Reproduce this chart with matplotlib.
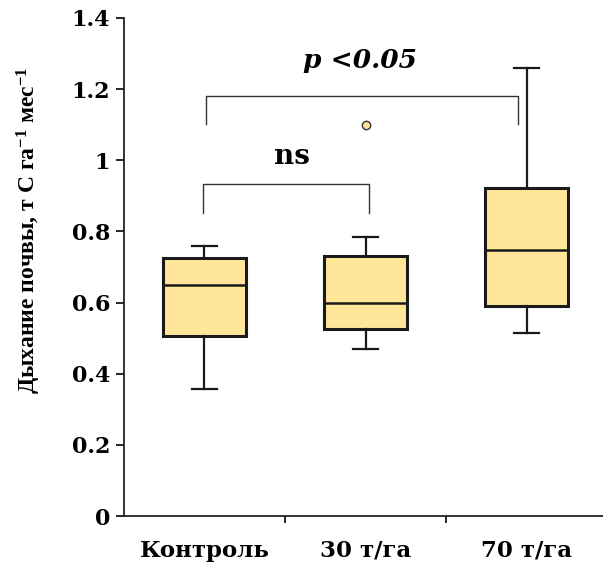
import matplotlib
matplotlib.use("Agg")
import matplotlib.pyplot as plt

# data
categories = ["Контроль", "30 т/га", "70 т/га"]
whisker_low = [0.356, 0.469, 0.514]
q1 = [0.506, 0.527, 0.590]
median = [0.649, 0.598, 0.747]
q3 = [0.726, 0.731, 0.922]
whisker_high = [0.760, 0.783, 1.260]
outliers = [[], [1.10], []]

# significance brackets: (x_left, x_right, y_top, y_leg)
brackets = [
    (0.99, 2.02, 0.932, 0.853),
    (1.01, 2.945, 1.182, 1.101),
]

plt.rcParams["font.family"] = ["Liberation Serif", "DejaVu Serif"]
plt.rcParams["font.weight"] = "bold"
plt.rcParams["mathtext.fontset"] = "custom"
plt.rcParams["mathtext.rm"] = "Liberation Serif:bold"
plt.rcParams["mathtext.bf"] = "Liberation Serif:bold"
plt.rcParams["mathtext.default"] = "rm"

# the picture's horizontal text is wide, DejaVu Serif matches its width
wide = ["DejaVu Serif"]

fig = plt.figure(figsize=(6.03, 5.64), dpi=100)
ax = fig.add_axes([0.2056, 0.0851, 0.7944, 0.8830])

stats = []
for i in range(len(categories)):
    stats.append({
        "whislo": whisker_low[i], "q1": q1[i], "med": median[i],
        "q3": q3[i], "whishi": whisker_high[i], "fliers": outliers[i],
    })

ax.bxp(stats, positions=[1, 2, 3], widths=0.52, patch_artist=True,
       boxprops=dict(facecolor="#FFE699", edgecolor="#1a1a1a", linewidth=2.2),
       medianprops=dict(color="#1a1a1a", linewidth=1.8),
       whiskerprops=dict(color="#1a1a1a", linewidth=1.6),
       capprops=dict(color="#1a1a1a", linewidth=1.6),
       capwidths=0.15,
       flierprops=dict(marker="o", markerfacecolor="#FFE699",
                       markeredgecolor="#333333", markersize=6,
                       markeredgewidth=1.0))

for xl, xr, yt, yl in brackets:
    ax.plot([xl, xl, xr, xr], [yl, yt, yt, yl], color="#333333", lw=1.0)

ax.text(1.543, 1.01, "ns", ha="center", va="center", fontsize=20,
        fontweight="bold", family=wide)
ax.text(1.966, 1.28, "p <0.05", ha="center", va="center", fontsize=19,
        fontweight="bold", style="italic", family=wide)

ax.set_xlim(0.5, 3.475)
ax.set_ylim(0, 1.4)
ax.set_yticks([0, 0.2, 0.4, 0.6, 0.8, 1.0, 1.2, 1.4])
ax.set_yticklabels(["0", "0.2", "0.4", "0.6", "0.8", "1", "1.2", "1.4"])
ax.set_xticks([1, 2, 3])
ax.set_xticklabels(categories)
ax.set_xticks([1.5, 2.5], minor=True)
ax.tick_params(axis="x", which="major", length=0, pad=17, labelsize=16.5)
ax.tick_params(axis="x", which="minor", length=5, width=1.2, direction="out")
ax.tick_params(axis="y", length=6, width=1.2, direction="out", labelsize=16, pad=4)
for lbl in ax.get_xticklabels() + ax.get_yticklabels():
    lbl.set_fontweight("bold")
    lbl.set_family(wide)

for s in ["top", "right"]:
    ax.spines[s].set_visible(False)
for s in ["left", "bottom"]:
    ax.spines[s].set_linewidth(1.3)
    ax.spines[s].set_color("#222222")

ax.set_ylabel("Дыхание почвы, т С га$^{-1}$ мес$^{-1}$",
              fontsize=17, fontweight="bold")
ax.yaxis.set_label_coords(-0.17, 0.574)

fig.savefig("out.png", dpi=100)
